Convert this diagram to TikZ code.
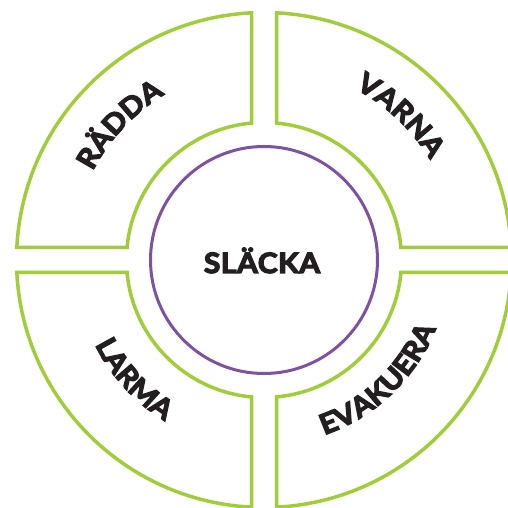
\documentclass[tikz,border=0pt]{standalone}
\usepackage{fontspec}
\setmainfont{Lato}[BoldFeatures={FakeBold=4.5,FakeStretch=1.07,LetterSpace=2}]
\usetikzlibrary{decorations.text}
\definecolor{ringgreen}{HTML}{A2CD3A}
\definecolor{hubpurple}{HTML}{7D52A0}
\definecolor{ink}{HTML}{231F20}
\newcommand{\lblfont}{\bfseries\fontsize{28}{31}\selectfont}
\begin{document}
\begin{tikzpicture}[x=1pt,y=1pt,
  quadrant/.style={draw=ringgreen, line width=3.5pt, fill=white, miter limit=10},
  hubring/.style={circle, draw=hubpurple, line width=3pt, minimum size=227pt, inner sep=0pt},
  curvedlabel/.style={decorate, decoration={text along path, text align=center, text color=ink, text={|\lblfont|#1}}}]
\useasboundingbox (0,0) rectangle (508,508);
\clip (0,0) rectangle (508,508);
\fill[white] (0,0) rectangle (508,508);
\coordinate (C) at (264,248);
\begin{scope}[shift={(C)}]
  \foreach \b in {0,90,180,270} {
    \draw[quadrant] ({\b+2.895}:247.5pt) arc[start angle={\b+2.895}, end angle={\b+87.105}, radius=247.5pt]
      -- ({\b+84.784}:137.5pt) arc[start angle={\b+84.784}, end angle={\b+5.216}, radius=137.5pt] -- cycle;
  }
  \path[curvedlabel={RÄDDA}] (171.8:193pt) arc[start angle=171.8, end angle=101.8, radius=193pt];
  \path[curvedlabel={VARNA}] (81.6:194pt) arc[start angle=81.6, end angle=11.6, radius=194pt];
  \path[curvedlabel={LARMA}] (187.5:189pt) arc[start angle=187.5, end angle=257.5, radius=189pt];
  \path[curvedlabel={EVAKUERA}] (268.6:185pt) arc[start angle=268.6, end angle=358.6, radius=185pt];
\end{scope}
\node[hubring] (hub) at (C) {};
\node[anchor=base, text=ink, font=\lblfont] (slacka) at (262,235) {SLÄCKA};
\end{tikzpicture}
\end{document}
